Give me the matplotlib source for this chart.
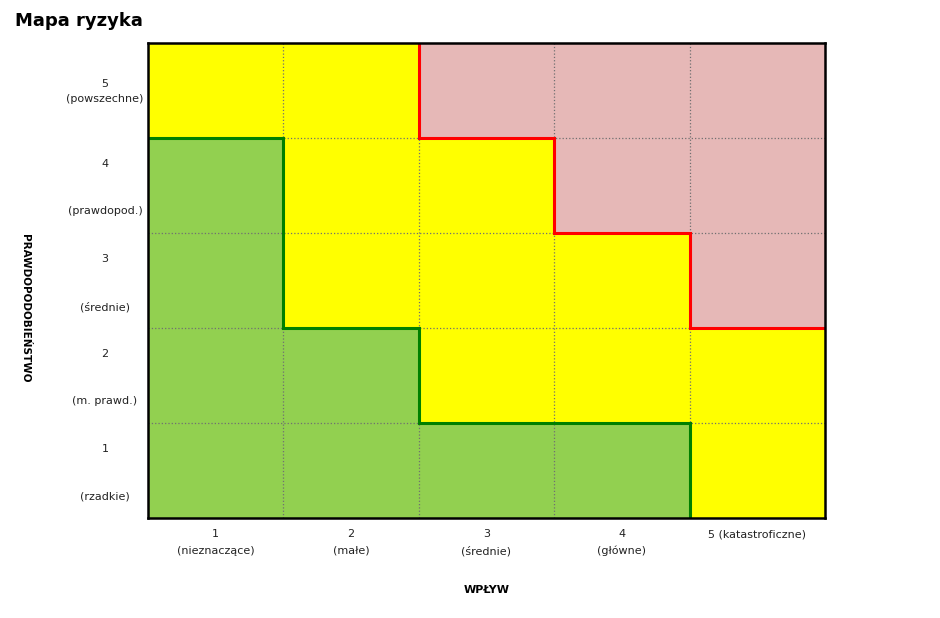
import numpy as np
import matplotlib
matplotlib.use("Agg")
import matplotlib.pyplot as plt
import matplotlib.transforms as mtransforms
from matplotlib.colors import ListedColormap

# risk level per cell: rows = likelihood 1..5 (bottom to top), cols = impact 1..5
# 0 = low (green), 1 = medium (yellow), 2 = high (pink)
risk = np.array([
    [0, 0, 0, 0, 1],   # 1 (rzadkie)
    [0, 0, 1, 1, 1],   # 2 (m. prawd.)
    [0, 1, 1, 1, 2],   # 3 (średnie)
    [0, 1, 1, 2, 2],   # 4 (prawdopod.)
    [1, 1, 2, 2, 2],   # 5 (powszechne)
])
x_labels = ["1\n(nieznaczące)", "2\n(małe)", "3\n(średnie)", "4\n(główne)", "5 (katastroficzne)"]
y_labels = ["1\n\n(rzadkie)", "2\n\n(m. prawd.)", "3\n\n(średnie)", "4\n\n(prawdopod.)", "5\n(powszechne)"]

# boundaries between zones (cell-corner coordinates)
green_x = [0, 1, 1, 2, 2, 4, 4]
green_y = [4, 4, 2, 2, 1, 1, 0]
red_x = [2, 2, 3, 3, 4, 4, 5]
red_y = [5, 4, 4, 3, 3, 2, 2]

cmap = ListedColormap(["#92D050", "#FFFF00", "#E6B8B7"])

fig = plt.figure(figsize=(9.4, 6.18), dpi=100)
ax = fig.add_axes([0.1574, 0.1618, 0.7203, 0.7686])

ax.pcolormesh(np.arange(6), np.arange(6), risk, cmap=cmap, vmin=-0.5, vmax=2.5)

for v in range(1, 5):
    ax.axvline(v, color="#707070", linestyle=":", linewidth=0.9)
    ax.axhline(v, color="#707070", linestyle=":", linewidth=0.9)

ax.plot(green_x, green_y, color="#008000", linewidth=2.2, solid_joinstyle="miter")
ax.plot(red_x, red_y, color="#FF0000", linewidth=2.2, solid_joinstyle="miter")

ax.set_xlim(0, 5)
ax.set_ylim(0, 5)
ax.set_xticks(np.arange(5) + 0.5)
ax.set_xticklabels(x_labels, fontsize=8, color="#222222", linespacing=1.8)
ax.set_yticks(np.arange(5) + 0.5)
ax.set_yticklabels(y_labels, fontsize=8, color="#222222", ha="center")
ax.tick_params(length=0, pad=8)
ax.tick_params(axis="y", pad=31)
for i, lab in enumerate(ax.get_yticklabels()):
    lab.set_linespacing(1.6 if i == 4 else 2.7)
    dy = 2 if i == 4 else 4
    shift = mtransforms.ScaledTranslation(0, dy / 72, fig.dpi_scale_trans)
    lab.set_transform(lab.get_transform() + shift)
for s in ax.spines.values():
    s.set_linewidth(1.8)
    s.set_color("black")

fig.text(0.016, 0.98, "Mapa ryzyka", fontsize=13, fontweight="bold", va="top", ha="left")
fig.text(0.518, 0.045, "WPŁYW", fontsize=8, fontweight="bold", ha="center", va="center")
fig.text(0.027, 0.502, "PRAWDOPODOBIEŃSTWO", fontsize=7.5, fontweight="bold",
         rotation=-90, ha="center", va="center")

fig.savefig("out.png", dpi=100)
